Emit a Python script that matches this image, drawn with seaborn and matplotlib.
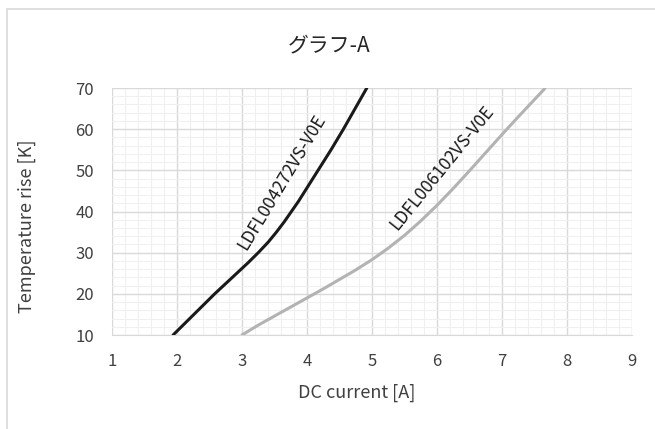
import pandas as pd
import matplotlib.pyplot as plt
import seaborn as sns
from matplotlib.ticker import MultipleLocator
from matplotlib.patches import Rectangle

# values
current_004272 = [1.94, 2.10, 2.26, 2.42, 2.58, 2.75, 2.92, 3.09, 3.25, 3.40, 3.53, 3.65, 3.76, 3.87, 3.97, 4.07, 4.17,
                  4.37, 4.56, 4.74, 4.92]
temp_004272 = [10, 12.5, 15, 17.5, 20, 22.5, 25, 27.5, 30, 32.5, 35, 37.5, 40, 42.5, 45, 47.5, 50,
               55, 60, 65, 70]
current_006102 = [3.00, 3.25, 3.50, 3.75, 4.00, 4.25, 4.50, 4.75, 5.00, 5.25, 5.50, 5.75, 6.00, 6.25, 6.50, 6.75, 7.00,
                  7.25, 7.50, 7.66]
temp_006102 = [10, 12.4, 14.6, 16.8, 19.0, 21.2, 23.5, 25.8, 28.3, 31.1, 34.2, 37.7, 41.5, 45.6, 49.9, 54.3, 58.7,
               63.0, 67.2, 69.9]
series_names = ["LDFL004272VS-V0E", "LDFL006102VS-V0E"]

df = pd.concat([
    pd.DataFrame({"current": current_004272, "temp": temp_004272, "part": series_names[0]}),
    pd.DataFrame({"current": current_006102, "temp": temp_006102, "part": series_names[1]}),
])

sns.set_style("white")
plt.rcParams['font.family'] = ['Noto Sans CJK JP', 'DejaVu Sans']

fig = plt.figure(figsize=(6.55, 4.29), dpi=100)
ax = fig.add_axes([112 / 655, 94 / 429, 520 / 655, 247 / 429])
# light chart-area frame
fig.patches.append(Rectangle((7 / 655, -0.1), 1.2, (429 - 9) / 429 + 0.1, transform=fig.transFigure,
                             fill=False, edgecolor="#d9d9d9", linewidth=1.2, zorder=0))

sns.lineplot(data=df, x="current", y="temp", hue="part", palette=["#1a1a1a", "#b3b3b3"],
             estimator=None, sort=False, linewidth=2.2, legend=False, ax=ax, zorder=3)

ax.set_xlim(1, 9)
ax.set_ylim(10, 70)
ax.xaxis.set_major_locator(MultipleLocator(1))
ax.xaxis.set_minor_locator(MultipleLocator(0.2))
ax.yaxis.set_major_locator(MultipleLocator(10))
ax.yaxis.set_minor_locator(MultipleLocator(2))
ax.grid(which="major", color="#d9d9d9", linewidth=1.0)
ax.grid(which="minor", color="#f0f0f0", linewidth=0.8)
ax.set_axisbelow(True)
for s in ["top", "left", "right"]:
    ax.spines[s].set_visible(False)
ax.spines["bottom"].set_color("#d9d9d9")
ax.tick_params(axis="x", which="both", length=0, labelsize=12, colors="#404040", pad=13)
ax.tick_params(axis="y", which="both", length=0, labelsize=12, colors="#404040", pad=13)

ax.set_xlabel("DC current [A]", fontsize=13, color="#404040")
ax.xaxis.set_label_coords((357 - 112) / 520, (335 - 393) / 247)
ax.xaxis.label.set_va("center")
ax.set_ylabel("Temperature rise [K]", fontsize=13, color="#404040")
ax.yaxis.set_label_coords((27 - 112) / 520, (335 - 226) / 247)
ax.yaxis.label.set_va("center")
fig.text(329 / 655, 1 - 45 / 429, "グラフ-A", fontsize=15, color="#262626", ha="center", va="center")

ax.text(3.61, 47.2, series_names[0], rotation=59, ha="center", va="center", fontsize=12.5, color="#1a1a1a")
ax.text(6.07, 50.5, series_names[1], rotation=51, ha="center", va="center", fontsize=12.5, color="#1a1a1a")

plt.savefig("out.png", dpi=100)
